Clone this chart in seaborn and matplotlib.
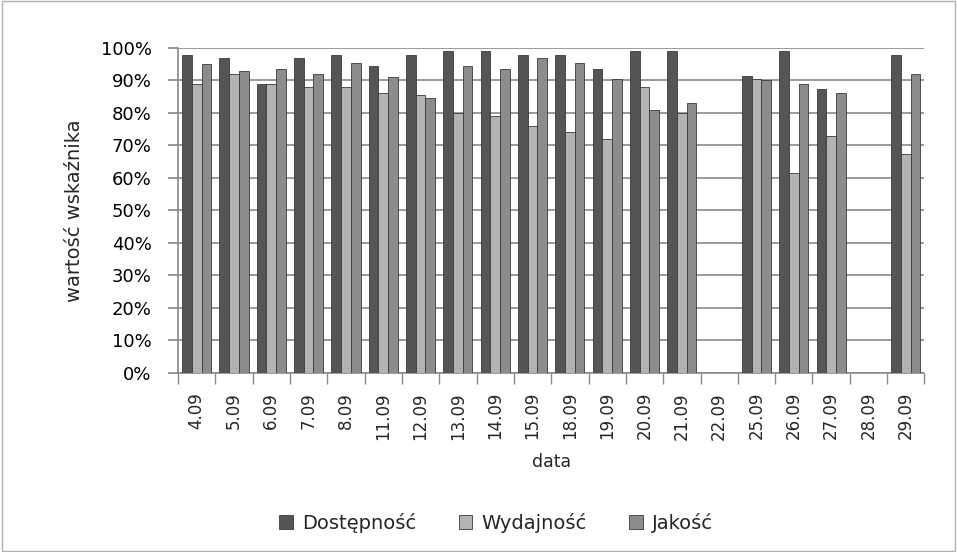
import matplotlib
matplotlib.use("Agg")
import matplotlib.pyplot as plt
import seaborn as sns
import pandas as pd
from matplotlib.ticker import PercentFormatter

dates = ["4.09", "5.09", "6.09", "7.09", "8.09", "11.09", "12.09", "13.09", "14.09", "15.09",
         "18.09", "19.09", "20.09", "21.09", "22.09", "25.09", "26.09", "27.09", "28.09", "29.09"]
dostepnosc = [98, 97, 89, 97, 98, 94.5, 98, 99, 99, 98, 98, 93.5, 99, 99, 0, 91.5, 99, 87.5, 0, 98]
wydajnosc = [89, 92, 89, 88, 88, 86, 85.5, 80, 79, 76, 74, 72, 88, 80, 0, 90.5, 61.5, 73, 0, 67.5]
jakosc = [95, 93, 93.5, 92, 95.5, 91, 84.5, 94.5, 93.5, 97, 95.5, 90.5, 81, 83, 0, 90, 89, 86, 0, 92]
series = ["Dostępność", "Wydajność", "Jakość"]

df = pd.DataFrame({
    "data": dates * 3,
    "wartosc": dostepnosc + wydajnosc + jakosc,
    "seria": [series[0]] * len(dates) + [series[1]] * len(dates) + [series[2]] * len(dates),
})

sns.set_theme(style="white")
plt.rcParams["font.family"] = ["DejaVu Sans"]

fig = plt.figure(figsize=(9.57, 5.52), dpi=100)
ax = fig.add_axes([0.186, 0.325, 0.78, 0.588])

palette = {"Dostępność": "#555555", "Wydajność": "#b3b3b3", "Jakość": "#8c8c8c"}
sns.barplot(data=df, x="data", y="wartosc", hue="seria", order=dates, hue_order=series,
            palette=palette, width=0.78, edgecolor="#3a3a3a", linewidth=0.6, saturation=1,
            ax=ax, zorder=3)

ax.set_ylim(0, 100)
ax.set_yticks(range(0, 101, 10))
ax.yaxis.set_major_formatter(PercentFormatter(decimals=0))
ax.grid(axis="y", color="#8a8a8a", linewidth=1.2, zorder=0)
ax.set_axisbelow(True)
ax.set_xlim(-0.5, len(dates) - 0.5)
for s in ["top", "right"]:
    ax.spines[s].set_visible(False)
ax.spines["left"].set_color("#8a8a8a")
ax.spines["bottom"].set_color("#8a8a8a")
ax.spines["left"].set_linewidth(1.2)
ax.spines["bottom"].set_linewidth(1.2)

ax.tick_params(axis="y", labelsize=13, colors="#000000", length=7, pad=12, left=True,
               color="#8a8a8a")
ax.tick_params(axis="x", labelsize=12, rotation=90, length=0, pad=14)
ax.set_xticks([i + 0.5 for i in range(-1, len(dates))], minor=True)
ax.tick_params(axis="x", which="minor", length=8, color="#8a8a8a", bottom=True)

ax.set_ylabel("wartość wskaźnika", fontsize=14, labelpad=12)
ax.set_xlabel("data", fontsize=12.5, labelpad=10)

handles, labels = ax.get_legend_handles_labels()
ax.get_legend().remove()
fig.legend(handles, labels, loc="center", bbox_to_anchor=(496 / 957, 1 - 523 / 552), ncol=3,
           frameon=False, fontsize=14, handlelength=0.7, handleheight=0.7,
           columnspacing=2.2, handletextpad=0.45)

fig.patches.append(plt.Rectangle((0.002, 0.002), 0.996, 0.996, transform=fig.transFigure,
                                 fill=False, edgecolor="#b0b0b0", linewidth=1))

fig.savefig("out.png", dpi=100)
